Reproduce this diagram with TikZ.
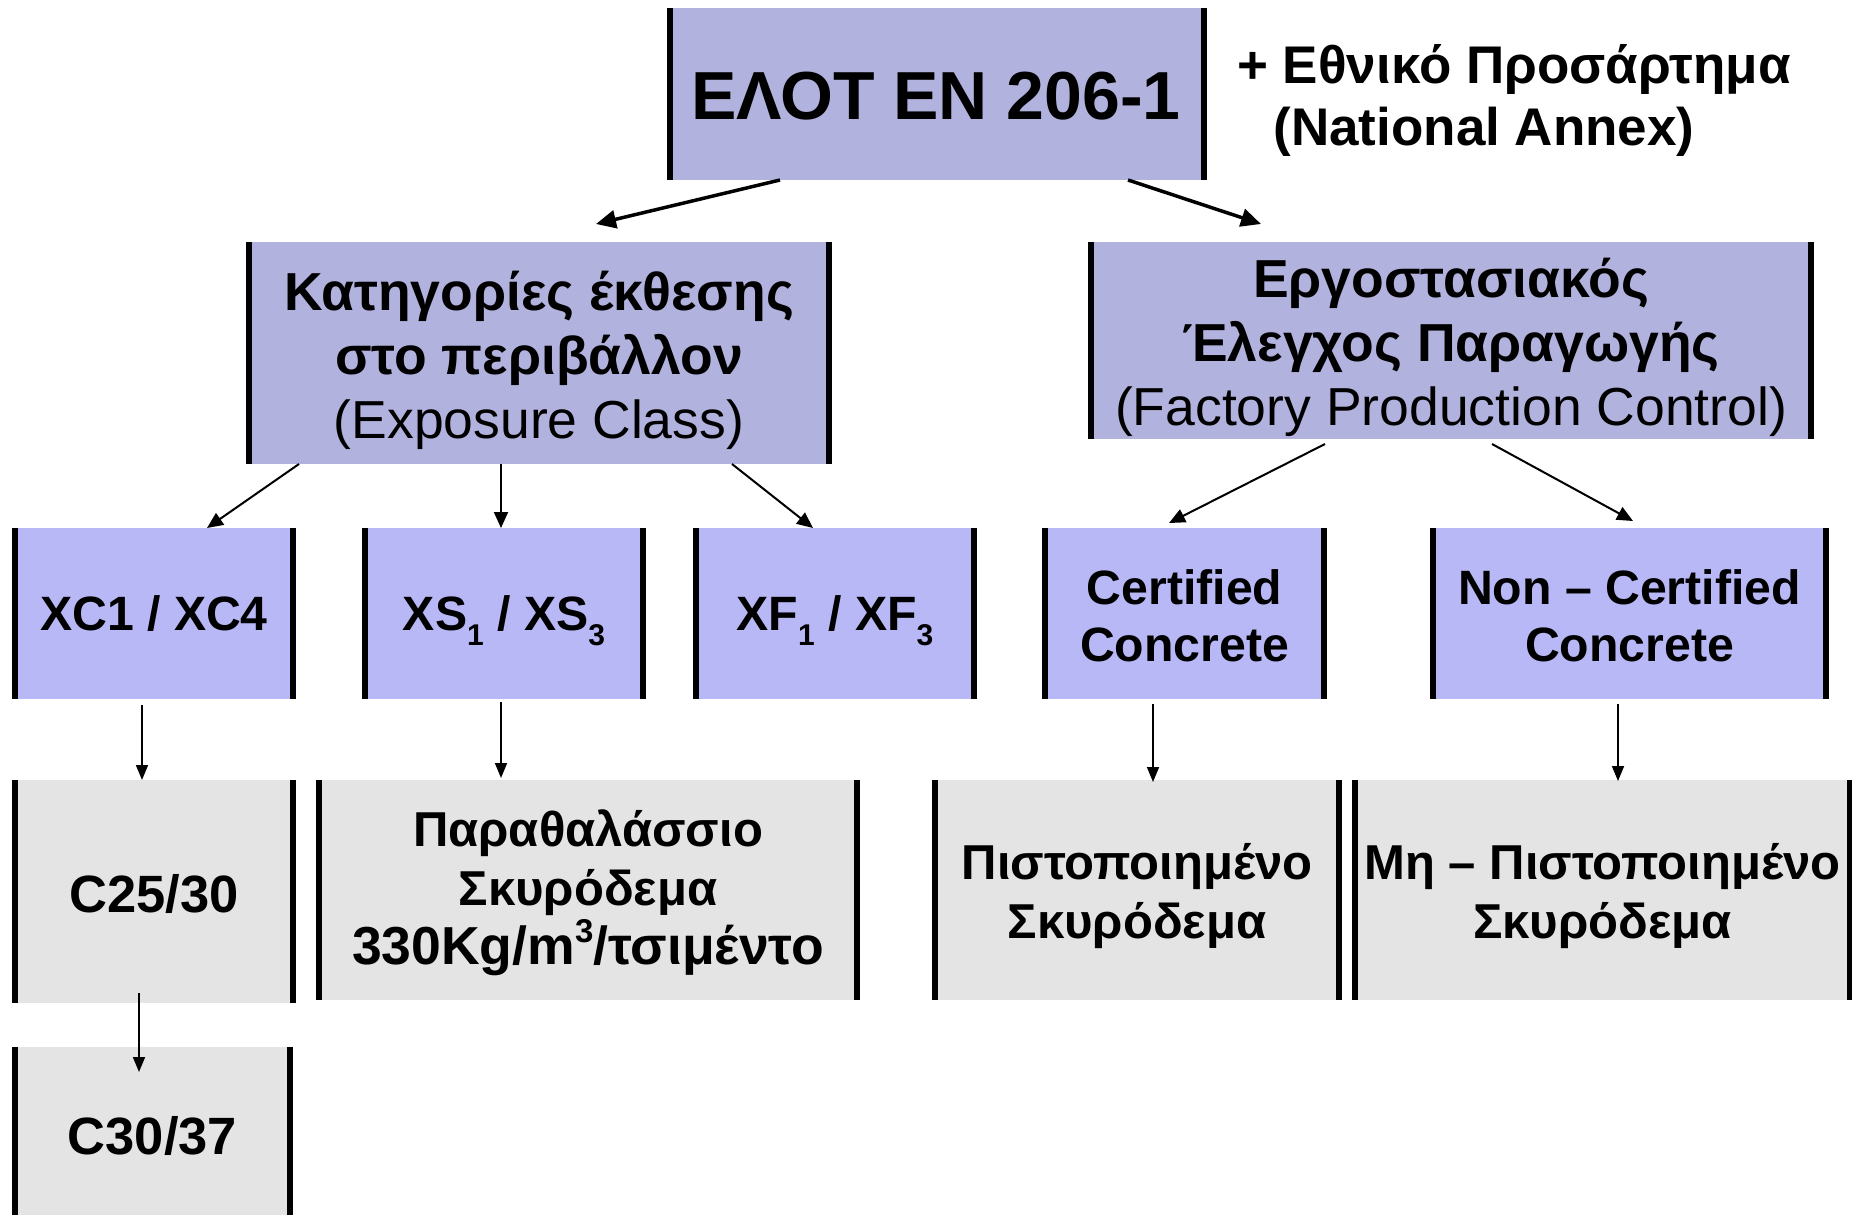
\documentclass[tikz,border=0pt]{standalone}
\usepackage{fontspec}
\setmainfont{Liberation Sans}
\usetikzlibrary{arrows.meta}
\definecolor{lavA}{RGB}{178,178,222}
\definecolor{lavB}{RGB}{184,184,246}
\definecolor{greyC}{RGB}{228,228,228}
\tikzset{
  box/.style={inner sep=0pt, outer sep=0pt},
  boxA/.style={box, fill=lavA},
  boxB/.style={box, fill=lavB, minimum height=171pt},
  boxC/.style={box, fill=greyC},
  txt/.style={inner sep=0pt, outer sep=0pt, align=center, text=black},
  txtB/.style={txt, font={\fontsize{48.2}{57}\selectfont\bfseries}},
  txtC/.style={txt, font={\fontsize{49}{59}\selectfont\bfseries}},
  sides/.style={line width=6pt, black},
  arrA/.style={line width=3.5pt, -{Triangle[length=20pt,width=18pt]}},
  arrB/.style={line width=2pt, -{Triangle[length=16pt,width=14pt]}},
  arrC/.style={line width=1.7pt, -{Triangle[length=15pt,width=12pt]}},
}
\newcommand\sidebars[1]{\draw[sides] (#1.north west) -- (#1.south west) (#1.north east) -- (#1.south east);}
\newcommand\subdig[1]{\raisebox{-0.3em}[0pt][0pt]{\fontsize{30}{30}\selectfont #1}}
\newcommand\supdig[1]{\raisebox{0.42em}[0pt][0pt]{\fontsize{33}{33}\selectfont #1}}
\begin{document}
\begin{tikzpicture}[x=1pt,y=-1pt]
\useasboundingbox[fill=white] (0,0) rectangle (1852,1215);
% level 1
\node[boxA, minimum width=534pt, minimum height=172pt] (top) at (937,94) {};
\node[txt, font={\fontsize{68}{68}\selectfont\bfseries}] (ttop) at (936,96) {ΕΛΟΤ ΕΝ 206-1};
\node[txt, font={\fontsize{53}{53}\selectfont\bfseries}] (ann1) at (1514,69) {+ Εθνικό Προσάρτημα};
\node[txt, font={\fontsize{53}{53}\selectfont\bfseries}] (ann2) at (1484,132) {(National Annex)};
% level 2
\node[boxA, minimum width=580pt, minimum height=222pt] (l2l) at (539,353) {};
\node[txt, font={\fontsize{53.5}{64}\selectfont}] (tl2l) at (539,360)
  {\textbf{Κατηγορίες έκθεσης}\\\textbf{στο περιβάλλον}\\(Exposure Class)};
\node[boxA, minimum width=720pt, minimum height=197pt] (l2r) at (1451,340.5) {};
\node[txt, font={\fontsize{53.5}{64}\selectfont}] (tl2r) at (1451,347.5)
  {\textbf{Εργοστασιακός}\\\textbf{Έλεγχος Παραγωγής}\\(Factory Production Control)};
% level 3
\node[boxB, minimum width=278pt] (xc) at (154,613.5) {};
\node[txtB] (txc) at (154,614) {XC1 / XC4};
\node[boxB, minimum width=278pt] (xs) at (504,613.5) {};
\node[txtB] (txs) at (504,614) {XS\subdig{1} / XS\subdig{3}};
\node[boxB, minimum width=278pt] (xf) at (835,613.5) {};
\node[txtB] (txf) at (835,614) {XF\subdig{1} / XF\subdig{3}};
\node[boxB, minimum width=279pt] (cert) at (1184.5,613.5) {};
\node[txtB] (tcert) at (1184.5,616) {Certified\\Concrete};
\node[boxB, minimum width=393pt] (ncert) at (1629.5,613.5) {};
\node[txtB] (tncert) at (1629.5,616) {Non – Certified\\Concrete};
% level 4
\node[boxC, minimum width=278pt, minimum height=223pt] (c25) at (154,891.5) {};
\node[txtC, font={\fontsize{52.5}{59}\selectfont\bfseries}] (tc25) at (154,894) {C25/30};
\node[boxC, minimum width=538pt, minimum height=220pt] (para) at (588,890) {};
\node[txtC] (tpara) at (588,893) {Παραθαλάσσιο\\Σκυρόδεμα\\{\fontsize{53.5}{59}\selectfont 330Kg/m\supdig{3}/τσιμέντο}};
\node[boxC, minimum width=404pt, minimum height=220pt] (pist) at (1137,890) {};
\node[txtC] (tpist) at (1137,896) {Πιστοποιημένο\\Σκυρόδεμα};
\node[boxC, minimum width=495pt, minimum height=220pt] (mh) at (1602.5,890) {};
\node[txtC] (tmh) at (1602.5,896) {Μη – Πιστοποιημένο\\Σκυρόδεμα};
\node[boxC, minimum width=275pt, minimum height=168pt] (c30) at (152.5,1131) {};
\node[txtC, font={\fontsize{52.5}{59}\selectfont\bfseries}] (tc30) at (152.5,1136) {C30/37};
% side bars
\foreach \n in {top,l2l,l2r,xc,xs,xf,cert,ncert,c25,para,pist,mh,c30} {\sidebars{\n}}
% connectors
\draw[arrA] ([xshift=-157pt]top.south) -- ([xshift=57pt,yshift=18pt]l2l.north);
\draw[arrA] ([xshift=191pt]top.south) -- ([xshift=-190pt,yshift=18pt]l2r.north);
\draw[arrB] ([xshift=-240pt]l2l.south) -- ([xshift=53pt]xc.north);
\draw[arrB] ([xshift=-38pt]l2l.south) -- ([xshift=-3pt]xs.north);
\draw[arrB] ([xshift=193pt]l2l.south) -- ([xshift=-22pt]xf.north);
\draw[arrB] ([xshift=-126pt,yshift=-5pt]l2r.south) -- ([xshift=-15.5pt,yshift=5pt]cert.north);
\draw[arrB] ([xshift=41pt,yshift=-5pt]l2r.south) -- ([xshift=3.5pt,yshift=7pt]ncert.north);
\draw[arrC] ([xshift=-12pt,yshift=-6pt]xc.south) -- ([xshift=-12pt]c25.north);
\draw[arrC] ([xshift=-15pt,yshift=10pt]c25.south) -- ([xshift=-13.5pt,yshift=-25pt]c30.north);
\draw[arrC] ([xshift=-3pt,yshift=-3pt]xs.south) -- ([xshift=-87pt,yshift=2pt]para.north);
\draw[arrC] ([xshift=-31.5pt,yshift=-5pt]cert.south) -- ([xshift=16pt,yshift=-2pt]pist.north);
\draw[arrC] ([xshift=-11.5pt,yshift=-5pt]ncert.south) -- ([xshift=15.5pt,yshift=-1pt]mh.north);
\end{tikzpicture}
\end{document}
